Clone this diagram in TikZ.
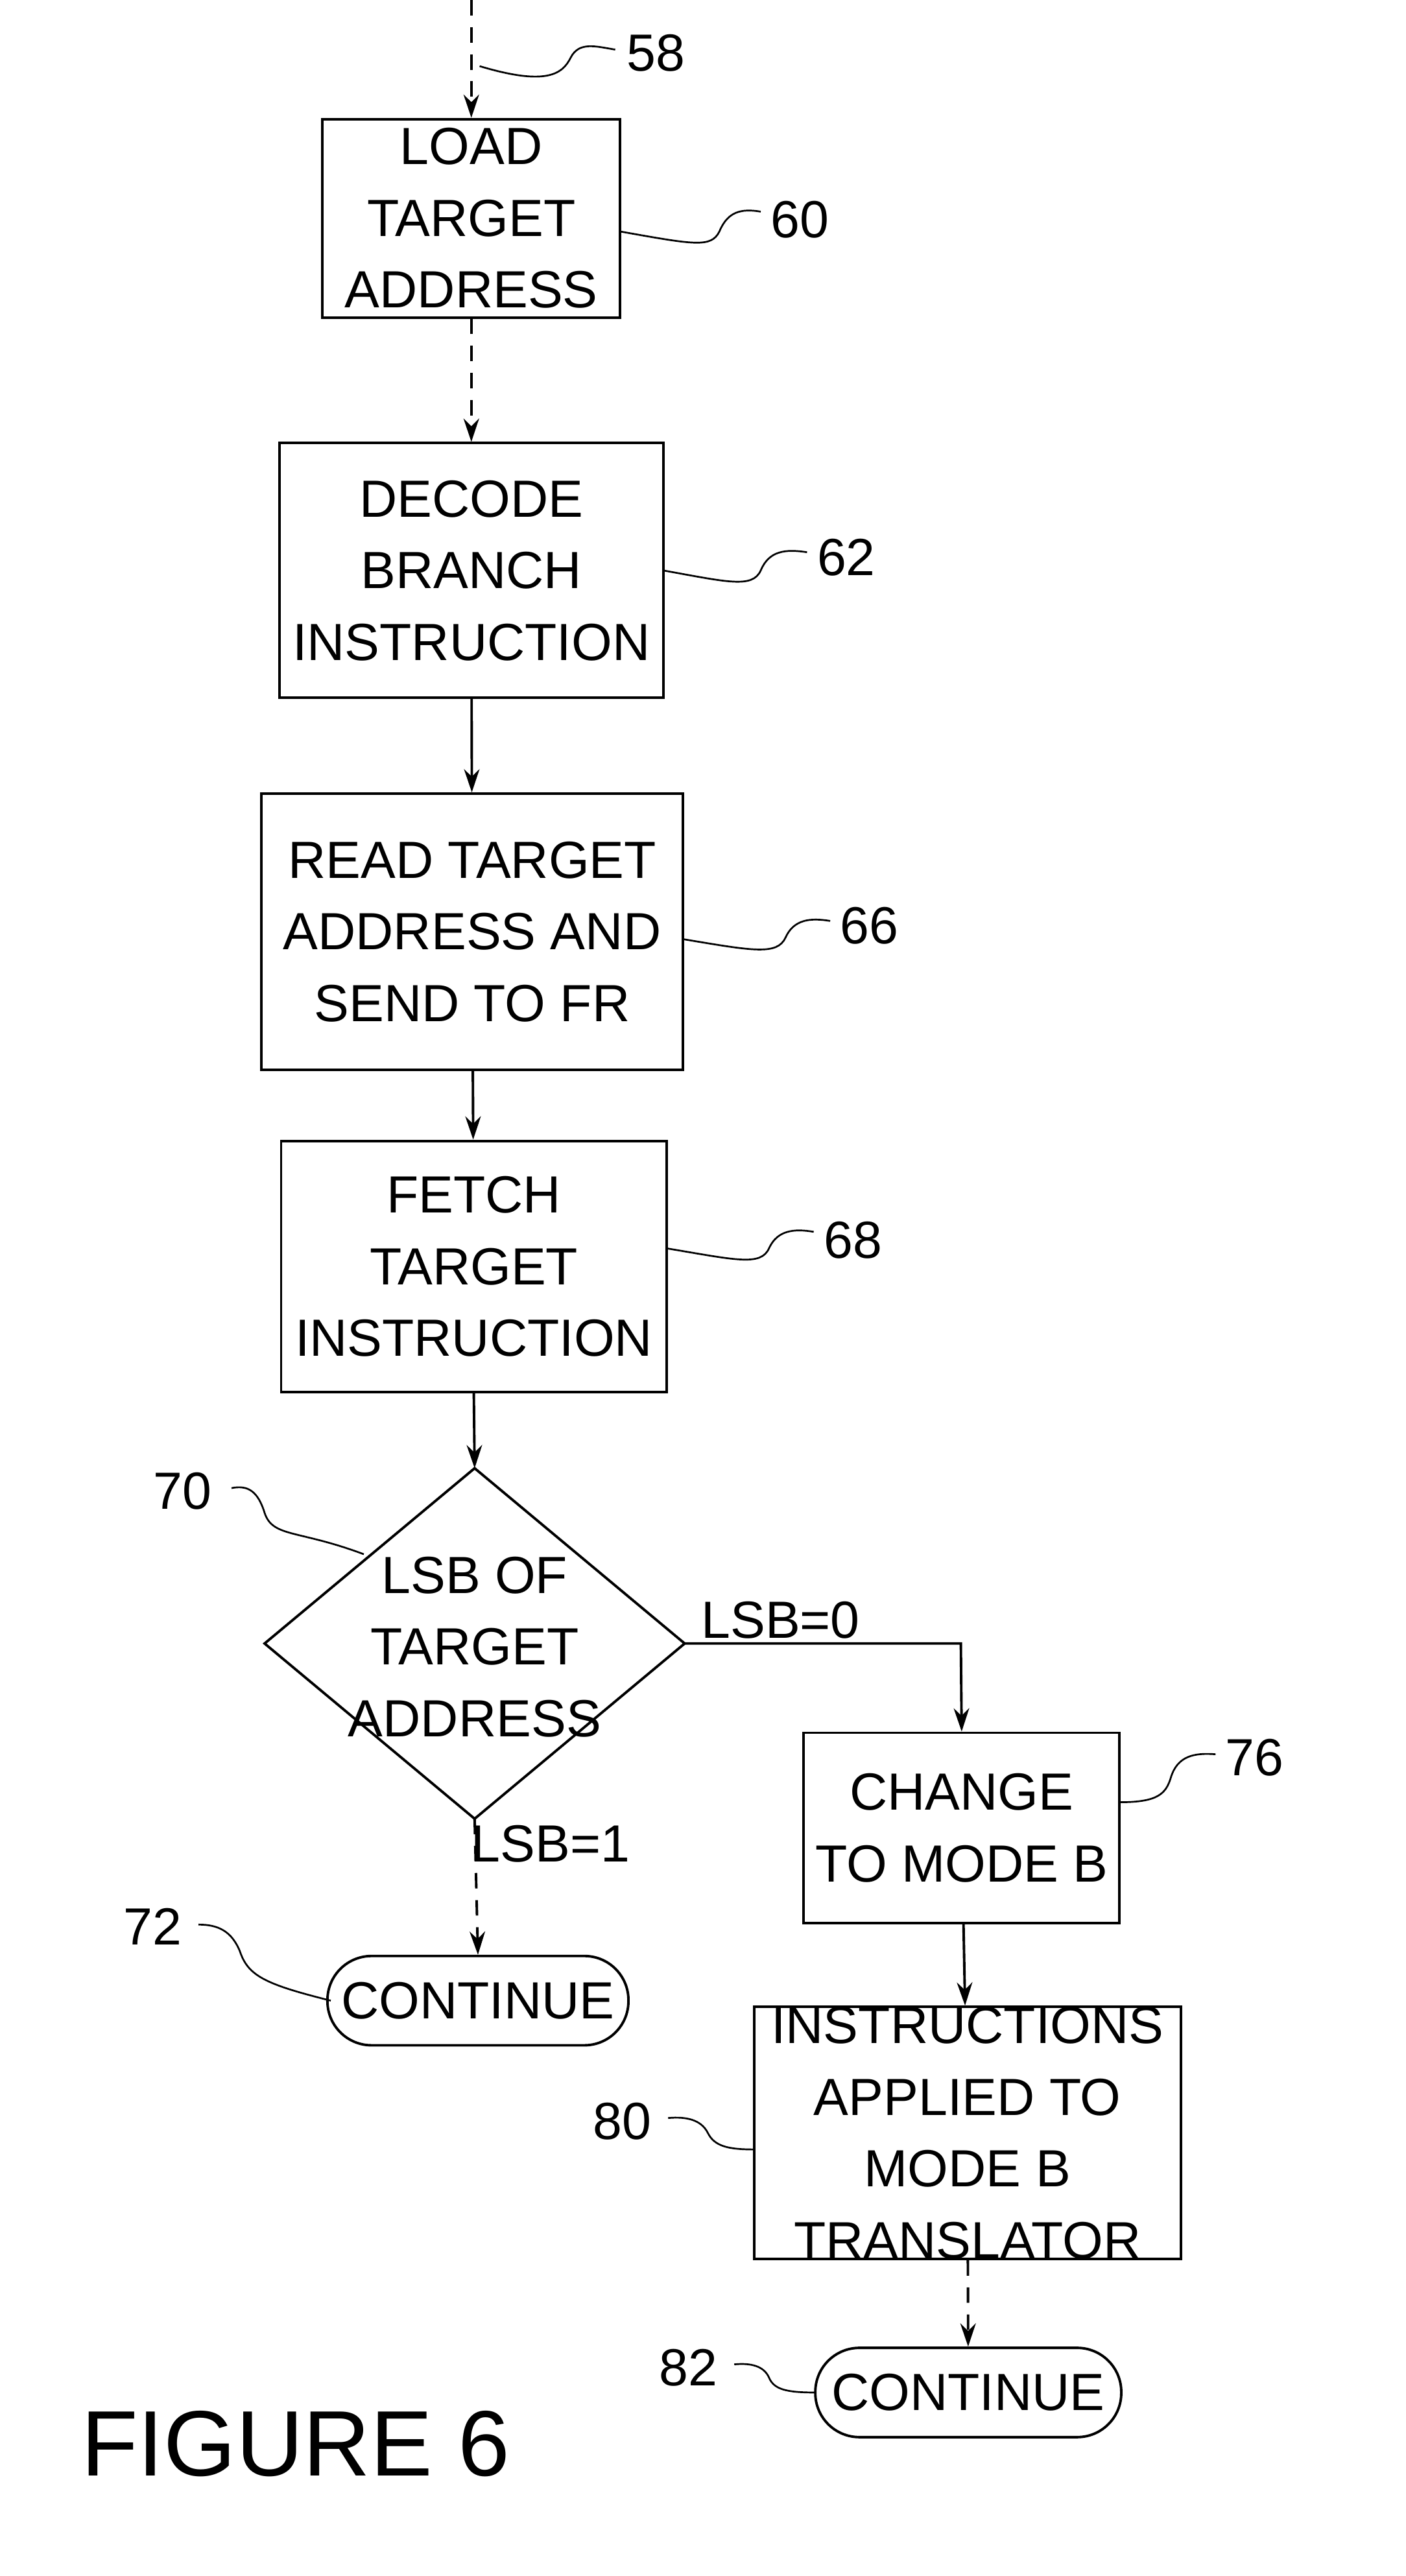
\documentclass[tikz,border=0pt]{standalone}
\usepackage{fontspec}
\setmainfont{Liberation Sans}
\usetikzlibrary{arrows.meta}
\begin{document}
\begin{tikzpicture}[x=0.03cm,y=-0.03cm,
 box/.style={draw,line width=1.3pt,align=center,inner sep=0pt,font=\fontsize{27}{37}\selectfont},
 term/.style={box,rounded corners=0.8cm},
 lbl/.style={font=\fontsize{27}{32}\selectfont},
 arr/.style={line width=1.3pt,-{Stealth[length=12pt,width=8pt]}},
 darr/.style={arr,dashed,dash pattern=on 8pt off 6pt},
 lead/.style={line width=0.9pt}]
\useasboundingbox (0,0) rectangle (850,1558);
\node[box,minimum width=5.4cm,minimum height=3.6cm] (b60) at (285,132) {LOAD\\TARGET\\ADDRESS};
\node[box,minimum width=6.96cm,minimum height=4.62cm] (b62) at (285,345) {DECODE\\BRANCH\\INSTRUCTION};
\node[box,minimum width=7.65cm,minimum height=5.01cm] (b66) at (285.5,563.5) {READ TARGET\\ADDRESS AND\\SEND TO FR};
\node[box,minimum width=6.99cm,minimum height=4.56cm] (b68) at (286.5,766) {FETCH\\TARGET\\INSTRUCTION};
\coordinate (dt) at (287,888); \coordinate (dl) at (160,994);
\coordinate (dr) at (414,994); \coordinate (db) at (287,1100);
\draw[line width=1.3pt] (dt)--(dr)--(db)--(dl)--cycle;
\node[box,draw=none] (d70) at (287,996) {LSB OF\\TARGET\\ADDRESS};
\node[box,minimum width=5.73cm,minimum height=3.45cm] (b76) at (581.5,1105.5) {CHANGE\\TO MODE B};
\node[term,minimum width=5.46cm,minimum height=1.62cm] (c72) at (289,1210) {CONTINUE};
\node[box,minimum width=7.74cm,minimum height=4.32cm] (b80) at (585,1290) {INSTRUCTIONS\\APPLIED TO\\MODE B\\TRANSLATOR};
\node[term,minimum width=5.55cm,minimum height=1.62cm] (c82) at (585.5,1447) {CONTINUE};
\coordinate (start) at (285,0);
\draw[darr] (start) -- (b60);
\draw[darr] (b60) -- (b62);
\draw[arr] (b62) -- (b66);
\draw[arr] (b66) -- (b68);
\draw[arr] (b68.south) -- (dt);
\coordinate (corner) at (581,994);
\draw[arr] (dr) -- (corner) -- (b76.north);
\draw[darr] (db) -- (c72.north);
\draw[arr] (b76) -- (b80);
\draw[darr] (b80) -- (c82);
\node[lbl] (l0) at (472,980) {LSB=0};
\node[lbl] (l1) at (333,1115) {LSB=1};
\node[lbl,anchor=west] (n58) at (375,32) {58};
\node[lbl,anchor=west] (n60) at (462,133) {60};
\node[lbl,anchor=west] (n62) at (490,337) {62};
\node[lbl,anchor=west] (n66) at (504,560) {66};
\node[lbl,anchor=west] (n68) at (494,750) {68};
\node[lbl,anchor=east] (n70) at (132,902) {70};
\node[lbl,anchor=west] (n76) at (737,1063) {76};
\node[lbl,anchor=east] (n72) at (114,1165) {72};
\node[lbl,anchor=east] (n80) at (398,1283) {80};
\node[lbl,anchor=east] (n82) at (438,1432) {82};
\draw[lead] (290,40) .. controls (330,52) and (340,45) .. (345,35) .. controls (350,25) and (360,28) .. (372,30);
\draw[lead] (375,140) .. controls (420,148) and (430,150) .. (435,140) .. controls (440,128) and (448,126) .. (460,128);
\draw[lead] (401,345) .. controls (440,352) and (455,356) .. (460,345) .. controls (465,333) and (475,332) .. (488,334);
\draw[lead] (413,568) .. controls (455,575) and (470,578) .. (475,567) .. controls (480,556) and (490,555) .. (502,557);
\draw[lead] (403,755) .. controls (445,762) and (460,766) .. (465,755) .. controls (470,744) and (480,743) .. (492,745);
\draw[lead] (220,940) .. controls (180,925) and (165,930) .. (160,915) .. controls (156,902) and (150,898) .. (140,900);
\draw[lead] (677,1090) .. controls (700,1090) and (705,1085) .. (708,1075) .. controls (712,1062) and (722,1060) .. (735,1061);
\draw[lead] (200,1210) .. controls (160,1200) and (150,1195) .. (145,1180) .. controls (140,1168) and (132,1164) .. (120,1164);
\draw[lead] (456,1300) .. controls (440,1300) and (432,1298) .. (428,1290) .. controls (424,1282) and (415,1280) .. (404,1281);
\draw[lead] (493,1447) .. controls (475,1447) and (468,1445) .. (465,1438) .. controls (462,1431) and (454,1429) .. (444,1430);
\node[anchor=west,font=\fontsize{48}{56}\selectfont] (fig) at (45,1478) {FIGURE 6};
\end{tikzpicture}
\end{document}
